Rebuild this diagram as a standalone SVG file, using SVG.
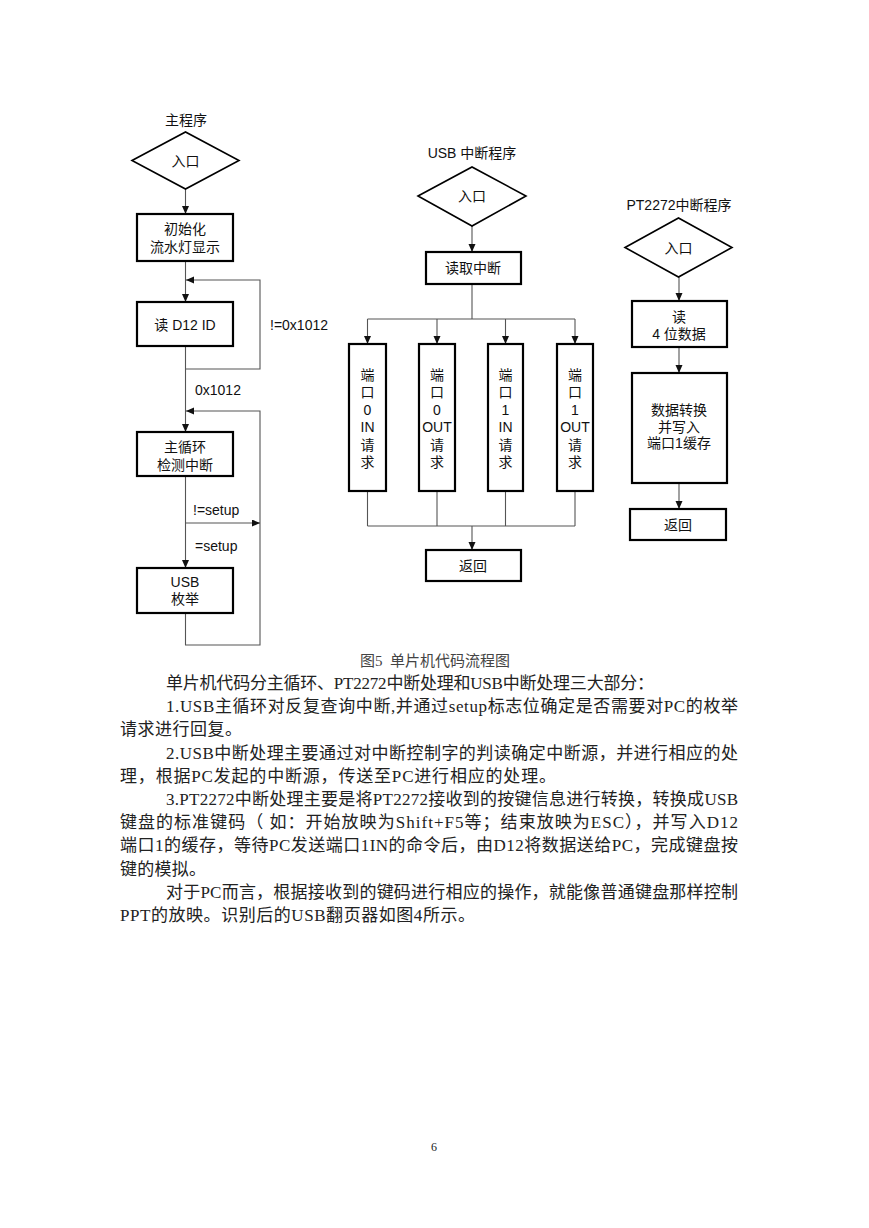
<svg xmlns="http://www.w3.org/2000/svg" width="869" height="1228" viewBox="0 0 869 1228">
<style>
.bg{fill:#fff}
.box{fill:#fff;stroke:#000;stroke-width:2.2}
.dia{fill:#fff;stroke:#000;stroke-width:1.6}
.con{fill:none;stroke:#555;stroke-width:1.1}
.t{font-family:"Liberation Sans","Noto Sans CJK SC",sans-serif;font-size:14px;fill:#111;text-anchor:middle;dominant-baseline:central}
.l{font-family:"Liberation Sans","Noto Sans CJK SC",sans-serif;font-size:14px;fill:#111;dominant-baseline:central}
.body{font-family:"Liberation Serif","Noto Sans CJK SC",serif;font-size:17px;fill:#222}
.cap{font-family:"Liberation Serif","Noto Sans CJK SC",serif;font-size:15px;fill:#444;text-anchor:middle}
</style>
<defs>
<marker id="ah" markerUnits="userSpaceOnUse" markerWidth="9" markerHeight="8" refX="8" refY="3.5" orient="auto">
<path d="M0,0 L8,3.5 L0,7 z" fill="#111"/>
</marker>
</defs>
<rect class="bg" x="0" y="0" width="869" height="1228"/>

<g id="connectors">
<path class="con" d="M185.5,189 V214" marker-end="url(#ah)"/>
<path class="con" d="M185.5,261 V302" marker-end="url(#ah)"/>
<path class="con" d="M185.5,346 V369 H260 V280 H186" marker-end="url(#ah)"/>
<path class="con" d="M185.5,369 V432" marker-end="url(#ah)"/>
<path class="con" d="M185.5,613 V645 H260 V411 H186" marker-end="url(#ah)"/>
<path class="con" d="M185.5,476 V568" marker-end="url(#ah)"/>
<path class="con" d="M185.5,523 H260" marker-end="url(#ah)"/>

<path class="con" d="M472,226 V252" marker-end="url(#ah)"/>
<path class="con" d="M472,284 V319 M367.5,319 H575"/>
<path class="con" d="M367.5,319 V344" marker-end="url(#ah)"/>
<path class="con" d="M437,319 V344" marker-end="url(#ah)"/>
<path class="con" d="M505.5,319 V344" marker-end="url(#ah)"/>
<path class="con" d="M575,319 V344" marker-end="url(#ah)"/>
<path class="con" d="M367.5,491 V526 M437,491 V526 M505.5,491 V526 M575,491 V526 M367.5,526 H575"/>
<path class="con" d="M472,526 V550" marker-end="url(#ah)"/>

<path class="con" d="M679,277 V301" marker-end="url(#ah)"/>
<path class="con" d="M679,347 V373" marker-end="url(#ah)"/>
<path class="con" d="M679,483 V509" marker-end="url(#ah)"/>
</g>

<g id="main-title"><text class="t" x="186" y="120">主程序</text></g>
<g id="main-entry">
<polygon class="dia" points="132,160.5 185.5,132 239,160.5 185.5,189"/>
<text class="t" x="185.5" y="161">入口</text>
</g>
<g id="init">
<rect class="box" x="137" y="214" width="96" height="47"/>
<text class="t" x="185" y="229">初始化</text>
<text class="t" x="185" y="247">流水灯显示</text>
</g>
<g id="read-id">
<rect class="box" x="137" y="302" width="96" height="44"/>
<text class="t" x="185" y="325">读 D12 ID</text>
</g>
<g id="main-loop">
<rect class="box" x="137" y="432" width="96" height="44"/>
<text class="t" x="185" y="447">主循环</text>
<text class="t" x="185" y="465">检测中断</text>
</g>
<g id="usb-enum">
<rect class="box" x="137" y="568" width="96" height="45"/>
<text class="t" x="185" y="582">USB</text>
<text class="t" x="185" y="599">枚举</text>
</g>
<g id="main-labels">
<text class="l" x="270" y="325">!=0x1012</text>
<text class="l" x="195" y="390">0x1012</text>
<text class="l" x="193" y="510">!=setup</text>
<text class="l" x="195" y="546">=setup</text>
</g>

<g id="usb-title"><text class="t" x="472" y="153">USB 中断程序</text></g>
<g id="usb-entry">
<polygon class="dia" points="418,196 472,167 526,196 472,226"/>
<text class="t" x="472" y="196">入口</text>
</g>
<g id="read-int">
<rect class="box" x="426" y="252" width="95" height="32"/>
<text class="t" x="473" y="268">读取中断</text>
</g>
<g id="port0in">
<rect class="box" x="349" y="344" width="37" height="147"/>
<text class="t" x="367.5" y="375">端</text><text class="t" x="367.5" y="392">口</text><text class="t" x="367.5" y="410">0</text><text class="t" x="367.5" y="427">IN</text><text class="t" x="367.5" y="445">请</text><text class="t" x="367.5" y="462">求</text>
</g>
<g id="port0out">
<rect class="box" x="419" y="344" width="36" height="147"/>
<text class="t" x="437" y="375">端</text><text class="t" x="437" y="392">口</text><text class="t" x="437" y="410">0</text><text class="t" x="437" y="427">OUT</text><text class="t" x="437" y="445">请</text><text class="t" x="437" y="462">求</text>
</g>
<g id="port1in">
<rect class="box" x="488" y="344" width="35" height="147"/>
<text class="t" x="505.5" y="375">端</text><text class="t" x="505.5" y="392">口</text><text class="t" x="505.5" y="410">1</text><text class="t" x="505.5" y="427">IN</text><text class="t" x="505.5" y="445">请</text><text class="t" x="505.5" y="462">求</text>
</g>
<g id="port1out">
<rect class="box" x="557" y="344" width="36" height="147"/>
<text class="t" x="575" y="375">端</text><text class="t" x="575" y="392">口</text><text class="t" x="575" y="410">1</text><text class="t" x="575" y="427">OUT</text><text class="t" x="575" y="445">请</text><text class="t" x="575" y="462">求</text>
</g>
<g id="usb-return">
<rect class="box" x="426" y="550" width="95" height="31"/>
<text class="t" x="473" y="566">返回</text>
</g>

<g id="pt-title"><text class="t" x="679" y="205">PT2272中断程序</text></g>
<g id="pt-entry">
<polygon class="dia" points="625,247.5 678.5,218 732,247.5 678.5,277"/>
<text class="t" x="678.5" y="248">入口</text>
</g>
<g id="pt-read">
<rect class="box" x="632" y="301" width="95" height="46"/>
<text class="t" x="679" y="317">读</text>
<text class="t" x="679" y="334">4 位数据</text>
</g>
<g id="pt-convert">
<rect class="box" x="632" y="373" width="95" height="110"/>
<text class="t" x="679" y="410">数据转换</text>
<text class="t" x="679" y="427">并写入</text>
<text class="t" x="679" y="443">端口1缓存</text>
</g>
<g id="pt-return">
<rect class="box" x="630" y="509" width="96" height="31"/>
<text class="t" x="678" y="525">返回</text>
</g>

<g id="caption"><text class="cap" x="435" y="666" xml:space="preserve">图5  单片机代码流程图</text></g>
<g id="body">
<text class="body" x="166" y="689" textLength="488" lengthAdjust="spacing">单片机代码分主循环、PT2272中断处理和USB中断处理三大部分：</text>
<text class="body" x="166" y="712" textLength="572" lengthAdjust="spacing">1.USB主循环对反复查询中断,并通过setup标志位确定是否需要对PC的枚举</text>
<text class="body" x="120" y="735" textLength="122" lengthAdjust="spacing">请求进行回复。</text>
<text class="body" x="166" y="759" textLength="572" lengthAdjust="spacing">2.USB中断处理主要通过对中断控制字的判读确定中断源，并进行相应的处</text>
<text class="body" x="120" y="782" textLength="436" lengthAdjust="spacing">理，根据PC发起的中断源，传送至PC进行相应的处理。</text>
<text class="body" x="166" y="805" textLength="572" lengthAdjust="spacing">3.PT2272中断处理主要是将PT2272接收到的按键信息进行转换，转换成USB</text>
<text class="body" x="120" y="828" textLength="618" lengthAdjust="spacing">键盘的标准键码（ 如：开始放映为Shift+F5等；结束放映为ESC），并写入D12</text>
<text class="body" x="120" y="851" textLength="618" lengthAdjust="spacing">端口1的缓存，等待PC发送端口1IN的命令后，由D12将数据送给PC，完成键盘按</text>
<text class="body" x="120" y="875" textLength="86" lengthAdjust="spacing">键的模拟。</text>
<text class="body" x="166" y="898" textLength="572" lengthAdjust="spacing">对于PC而言，根据接收到的键码进行相应的操作，就能像普通键盘那样控制</text>
<text class="body" x="120" y="921" textLength="355" lengthAdjust="spacing">PPT的放映。识别后的USB翻页器如图4所示。</text>
</g>
<g id="page-number"><text class="cap" x="434" y="1151" style="font-size:12px;fill:#222">6</text></g>
</svg>
